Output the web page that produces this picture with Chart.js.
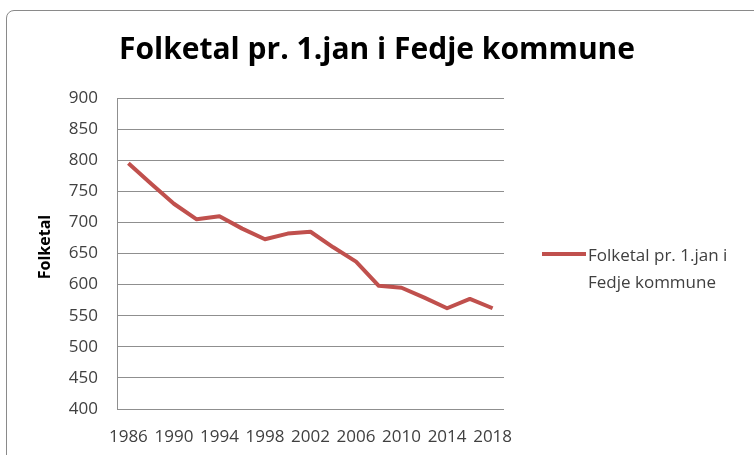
<!DOCTYPE html>
<html>
<head>
<meta charset="utf-8">
<script src="https://cdn.jsdelivr.net/npm/chart.js@4"></script>
<style>
  body { margin: 0; background: #fff; }
  #frame {
    position: absolute; left: 6px; top: 10px;
    width: 820px; height: 520px;
    border: 1px solid #8a8a8a; border-radius: 8px;
  }
  #chart { position: absolute; left: 0; top: 0; }
</style>
</head>
<body>
<div id="frame"></div>
<canvas id="chart" width="754" height="455"></canvas>
<script>
  // Data
  const chartTitle = "Folketal pr. 1.jan i Fedje kommune";
  const yTitle = "Folketal";
  const seriesName = "Folketal pr. 1.jan i Fedje kommune";
  const legendLines = ["Folketal pr. 1.jan i", "Fedje kommune"];
  const years = ["1986", "1988", "1990", "1992", "1994", "1996", "1998", "2000", "2002",
                 "2004", "2006", "2008", "2010", "2012", "2014", "2016", "2018"];
  const population = [795, 762, 730, 705, 710, 690, 673, 682, 685,
                      660, 637, 598, 595, 579, 562, 577, 562];

  const lineColor = "#C0504D";
  const gridColor = "#8f8f8f";
  const textColor = "#404040";

  // titel, aksetittel og legende teikna for hand
  const decor = {
    id: "decor",
    afterDraw(chart) {
      const ctx = chart.ctx;
      ctx.save();
      ctx.fillStyle = "#000";
      ctx.font = "bold 30px 'Open Sans'";
      ctx.textAlign = "center";
      ctx.textBaseline = "middle";
      ctx.fillText(chartTitle, 377, 50);

      // y-aksetittel
      ctx.save();
      ctx.translate(45, 247);
      ctx.rotate(-Math.PI / 2);
      ctx.font = "bold 16px 'Open Sans'";
      ctx.fillText(yTitle, 0, 0);
      ctx.restore();

      // legende
      ctx.strokeStyle = lineColor;
      ctx.lineWidth = 4;
      ctx.beginPath();
      ctx.moveTo(542, 254);
      ctx.lineTo(586, 254);
      ctx.stroke();
      ctx.fillStyle = textColor;
      ctx.font = "17px 'Open Sans'";
      ctx.textAlign = "left";
      legendLines.forEach((t, i) => ctx.fillText(t, 588, 256 + i * 27));
      ctx.restore();
    }
  };

  new Chart(document.getElementById("chart").getContext("2d"), {
    type: "line",
    data: {
      labels: years,
      datasets: [{
        label: seriesName,
        data: population,
        borderColor: lineColor,
        backgroundColor: lineColor,
        borderWidth: 4,
        pointRadius: 0,
        tension: 0,
        borderJoinStyle: "round",
        fill: false
      }]
    },
    options: {
      responsive: false,
      animation: false,
      layout: { padding: { top: 98, right: 250, left: 0, bottom: 0 } },
      plugins: {
        legend: { display: false },
        title: { display: false },
        tooltip: { enabled: false }
      },
      scales: {
        x: {
          offset: true,
          grid: { display: false, drawTicks: false },
          border: { display: false },
          ticks: {
            autoSkip: false,
            maxRotation: 0,
            padding: 18,
            color: textColor,
            font: { family: "'Open Sans'", size: 17 },
            callback: (v, i) => (i % 2 === 0 ? years[i] : "")
          },
          afterFit: (s) => { s.height = 46; }
        },
        y: {
          min: 400,
          max: 900,
          ticks: {
            stepSize: 50,
            padding: 19,
            color: textColor,
            font: { family: "'Open Sans'", size: 17 }
          },
          grid: { color: gridColor, lineWidth: 1, drawTicks: false },
          border: { display: true, color: gridColor, width: 1 },
          afterFit: (s) => { s.width = 117; }
        }
      }
    },
    plugins: [decor]
  });
</script>
</body>
</html>
